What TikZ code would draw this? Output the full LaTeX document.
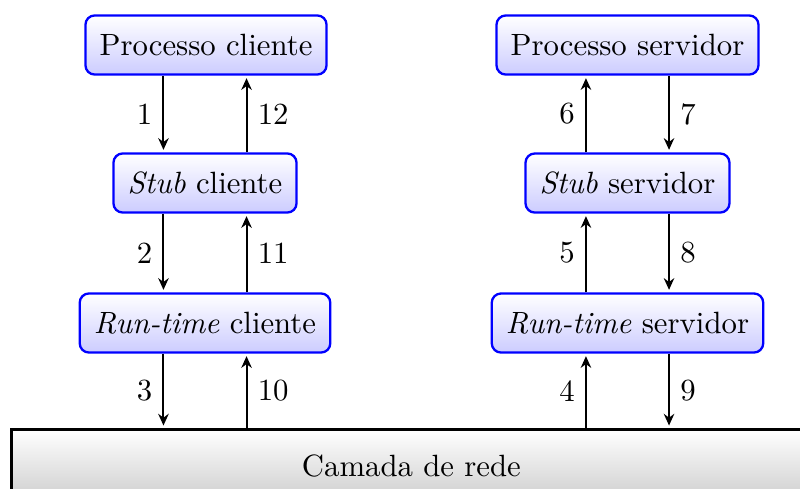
\documentclass[tikz,border=0pt]{standalone}
\usetikzlibrary{arrows.meta}
\begin{document}
\begin{tikzpicture}[x=0.325pt,y=-0.325pt,
  layerbox/.style={draw=blue, line width=0.75pt, rounded corners=3pt,
    top color=white, bottom color=blue!20,
    minimum height=19.2pt, inner xsep=4.6pt},
  netbar/.style={draw=black, line width=0.9pt, top color=white, bottom color=black!20,
    minimum width=260pt, minimum height=24pt, anchor=north west},
  flow/.style={line width=0.65pt, -{Stealth[length=3.8pt,width=3.4pt]}, shorten >=0.8pt}
]
\useasboundingbox (0,0) rectangle (800,488);
\clip (0,0) rectangle (800,488);

% client side
\node[layerbox] (pc) at (206,45)  {Processo cliente};
\node[layerbox] (sc) at (205,183) {\textit{Stub} cliente};
\node[layerbox] (rc) at (205,323) {\textit{Run-time} cliente};

% server side
\node[layerbox] (ps) at (627.5,45)  {Processo servidor};
\node[layerbox] (ss) at (627.5,183) {\textit{Stub} servidor};
\node[layerbox] (rs) at (627.5,323) {\textit{Run-time} servidor};

% network layer
\node[netbar] (net) at (10,428) {Camada de rede};

% where the four lower arrows meet the network layer
\coordinate (nc3)  at ([xshift=-13.5pt]rc.south |- net.north);
\coordinate (nc10) at ([xshift=13.5pt]rc.south |- net.north);
\coordinate (ns4)  at ([xshift=-13.5pt]rs.south |- net.north);
\coordinate (ns9)  at ([xshift=13.5pt]rs.south |- net.north);

% client: calls go down, replies come back up
\draw[flow] ([xshift=-13.5pt]sc.north |- pc.south) -- node[left]  {1}  ([xshift=-13.5pt]sc.north);
\draw[flow] ([xshift=13.5pt]sc.north)  -- node[right] {12} ([xshift=13.5pt]sc.north |- pc.south);
\draw[flow] ([xshift=-13.5pt]sc.south) -- node[left]  {2}  ([xshift=-13.5pt]rc.north);
\draw[flow] ([xshift=13.5pt]rc.north)  -- node[right] {11} ([xshift=13.5pt]sc.south);
\draw[flow] ([xshift=-13.5pt]rc.south) -- node[left]  {3}  (nc3);
\draw[flow] (nc10) -- node[right] {10} ([xshift=13.5pt]rc.south);

% server: requests come up, replies go down
\draw[flow] (ns4) -- node[left]  {4} ([xshift=-13.5pt]rs.south);
\draw[flow] ([xshift=13.5pt]rs.south)  -- node[right] {9} (ns9);
\draw[flow] ([xshift=-13.5pt]rs.north) -- node[left]  {5} ([xshift=-13.5pt]ss.south);
\draw[flow] ([xshift=13.5pt]ss.south)  -- node[right] {8} ([xshift=13.5pt]rs.north);
\draw[flow] ([xshift=-13.5pt]ss.north) -- node[left]  {6} ([xshift=-13.5pt]ps.south);
\draw[flow] ([xshift=13.5pt]ps.south)  -- node[right] {7} ([xshift=13.5pt]ss.north);
\end{tikzpicture}
\end{document}
